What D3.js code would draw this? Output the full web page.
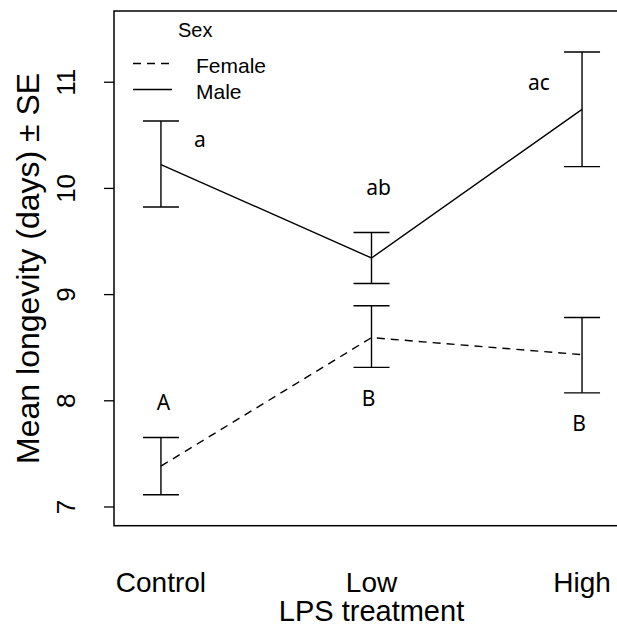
<!DOCTYPE html>
<html>
<head>
<meta charset="utf-8">
<script src="https://cdn.jsdelivr.net/npm/d3@7"></script>
<style>
  body { margin: 0; background: #fff; }
  svg text { font-family: "Liberation Sans", Arial, sans-serif; }
  svg text.letter { font-family: "Noto Sans", sans-serif; }
</style>
</head>
<body>
<div id="chart"></div>
<script>
// LPS treatment levels
var treatments = ["Control", "Low", "High"];

// mean longevity and SE bounds
var maleMean = [10.22, 9.34, 10.74];
var maleUpper = [10.63, 9.58, 11.28];
var maleLower = [9.82, 9.10, 10.20];

var femaleMean = [7.38, 8.59, 8.43];
var femaleUpper = [7.65, 8.89, 8.78];
var femaleLower = [7.11, 8.31, 8.07];

// significance letters
var maleLetters = ["a", "ab", "ac"];
var femaleLetters = ["A", "B", "B"];

var yTicks = [7, 8, 9, 10, 11];

var width = 617, height = 629;

var svg = d3.select("#chart").append("svg")
    .attr("width", width)
    .attr("height", height);

var x = d3.scaleLinear()
    .domain([-0.223, 2.223])
    .range([114, 629]);

var y = d3.scaleLinear()
    .domain([6.819, 11.666])
    .range([525.7, 11]);

// box
svg.append("rect")
    .attr("x", x.range()[0])
    .attr("y", y.range()[1])
    .attr("width", x.range()[1] - x.range()[0])
    .attr("height", y.range()[0] - y.range()[1])
    .attr("fill", "none")
    .attr("stroke", "#000")
    .attr("stroke-width", 1.5);

// y axis, labels rotated like R's default las=0
var yAxis = svg.append("g")
    .attr("transform", "translate(" + x.range()[0] + ",0)")
    .call(d3.axisLeft(y).tickValues(yTicks).tickSize(10).tickFormat(d3.format("d")));

yAxis.attr("font-size", null).attr("font-family", null);
yAxis.select(".domain").remove();
yAxis.selectAll(".tick line").attr("stroke-width", 1.3);
yAxis.selectAll(".tick text")
    .attr("transform", "rotate(-90)")
    .attr("x", 0)
    .attr("y", -39)
    .attr("dy", null)
    .attr("text-anchor", "middle")
    .style("font-size", "26px")
    .attr("fill", "#000");

// x category labels (no ticks)
svg.selectAll("text.xlab")
    .data(treatments)
    .enter()
    .append("text")
    .attr("class", "xlab")
    .attr("x", function(d, i) { return x(i); })
    .attr("y", 592)
    .attr("text-anchor", "middle")
    .attr("font-size", 28)
    .text(function(d) { return d; });

// axis titles
svg.append("text")
    .attr("x", (x.range()[0] + x.range()[1]) / 2)
    .attr("y", 621)
    .attr("text-anchor", "middle")
    .attr("font-size", 29)
    .text("LPS treatment");

svg.append("text")
    .attr("transform", "translate(39," + (y.range()[0] + y.range()[1]) / 2 + ") rotate(-90)")
    .attr("text-anchor", "middle")
    .attr("font-size", 32)
    .text("Mean longevity (days) \u00b1 SE");

var line = d3.line()
    .x(function(d, i) { return x(i); })
    .y(function(d) { return y(d); });

var series = [
    { mean: femaleMean, upper: femaleUpper, lower: femaleLower, dash: "8,6" },
    { mean: maleMean, upper: maleUpper, lower: maleLower, dash: null }
];

series.forEach(function(s) {
    svg.append("path")
        .datum(s.mean)
        .attr("d", line)
        .attr("fill", "none")
        .attr("stroke", "#000")
        .attr("stroke-width", 1.4)
        .attr("stroke-dasharray", s.dash);

    var bars = svg.append("g").selectAll("g")
        .data(s.mean)
        .enter()
        .append("g");

    bars.append("line")
        .attr("x1", function(d, i) { return x(i); })
        .attr("x2", function(d, i) { return x(i); })
        .attr("y1", function(d, i) { return y(s.upper[i]); })
        .attr("y2", function(d, i) { return y(s.lower[i]); })
        .attr("stroke", "#000")
        .attr("stroke-width", 1.4);

    [s.upper, s.lower].forEach(function(b) {
        bars.append("line")
            .attr("x1", function(d, i) { return x(i) - 18; })
            .attr("x2", function(d, i) { return x(i) + 18; })
            .attr("y1", function(d, i) { return y(b[i]); })
            .attr("y2", function(d, i) { return y(b[i]); })
            .attr("stroke", "#000")
            .attr("stroke-width", 1.4);
    });
});

// letters
var letterPos = [
    { t: maleLetters[0], x: 200, y: 146.5 },
    { t: maleLetters[1], x: 378.5, y: 195 },
    { t: maleLetters[2], x: 539, y: 90 },
    { t: femaleLetters[0], x: 163.5, y: 410 },
    { t: femaleLetters[1], x: 368.5, y: 405.5 },
    { t: femaleLetters[2], x: 579, y: 430.5 }
];

svg.selectAll("text.letter")
    .data(letterPos)
    .enter()
    .append("text")
    .attr("class", "letter")
    .attr("x", function(d) { return d.x; })
    .attr("y", function(d) { return d.y; })
    .attr("text-anchor", "middle")
    .style("font-size", "21px")
    .text(function(d) { return d.t; });

// legend
var legend = svg.append("g");
legend.append("text")
    .attr("x", 178)
    .attr("y", 36.5)
    .attr("font-size", 20)
    .text("Sex");

var legendItems = [
    { label: "Female", dash: "8,6", y: 63.5 },
    { label: "Male", dash: null, y: 89.5 }
];

legendItems.forEach(function(d) {
    legend.append("line")
        .attr("x1", 133)
        .attr("x2", 172)
        .attr("y1", d.y)
        .attr("y2", d.y)
        .attr("stroke", "#000")
        .attr("stroke-width", 1.4)
        .attr("stroke-dasharray", d.dash);
    legend.append("text")
        .attr("x", 196)
        .attr("y", d.y + 9)
        .attr("font-size", 21)
        .text(d.label);
});
</script>
</body>
</html>
